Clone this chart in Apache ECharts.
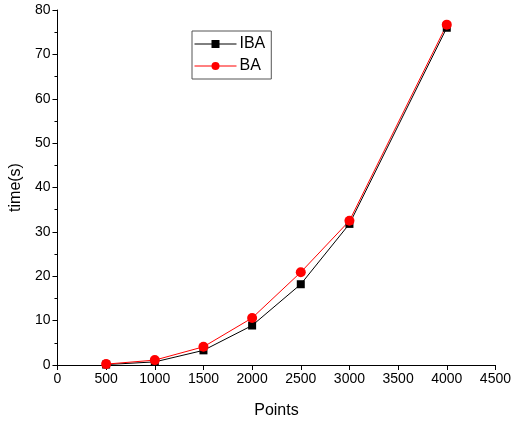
<!DOCTYPE html>
<html>
<head>
<meta charset="utf-8">
<script src="https://cdn.jsdelivr.net/npm/echarts@6/dist/echarts.min.js"></script>
<style>html,body{margin:0;padding:0;background:#fff}#c{width:514px;height:424px}</style>
</head>
<body>
<div id="c"></div>
<script>
const points = [500, 1000, 1500, 2000, 2500, 3000, 4000];
const ibaValues = [0.1, 0.7, 3.3, 8.9, 18.2, 31.8, 76.0];
const baValues = [0.2, 1.1, 4.1, 10.6, 20.9, 32.5, 76.7];
const seriesNames = ['IBA', 'BA'];

const chart = echarts.init(document.getElementById('c'), null, {renderer: 'canvas'});
const font = 'Liberation Sans, Arial, sans-serif';
chart.setOption({
  animation: false,
  backgroundColor: '#fff',
  grid: {left: 57, right: 16, top: 10, bottom: 58},
  legend: {
    orient: 'vertical',
    left: 192, top: 31,
    borderColor: '#555', borderWidth: 1,
    padding: [5, 6, 5, 2],
    itemGap: 6,
    itemWidth: 42, itemHeight: 10,
    lineStyle: {width: 1},
    textStyle: {fontFamily: font, fontSize: 16, color: '#000', padding: [0, 0, 0, -2]},
    data: seriesNames
  },
  xAxis: {
    type: 'value', min: 0, max: 4500, interval: 500,
    name: 'Points', nameLocation: 'middle', nameGap: 38,
    nameTextStyle: {fontFamily: font, fontSize: 16, color: '#000'},
    axisLine: {show: true, onZero: false, lineStyle: {color: '#000', width: 1}},
    axisTick: {show: true, length: 5, lineStyle: {color: '#000'}},
    axisLabel: {fontFamily: font, fontSize: 14, color: '#000', margin: 7, formatter: v => String(v)},
    splitLine: {show: false}
  },
  yAxis: {
    type: 'value', min: 0, max: 80, interval: 10,
    name: 'time(s)', nameLocation: 'middle', nameGap: 31,
    nameTextStyle: {fontFamily: font, fontSize: 16, color: '#000'},
    axisLine: {show: true, lineStyle: {color: '#000', width: 1}},
    axisTick: {show: true, length: 5, lineStyle: {color: '#000'}},
    minorTick: {show: true, splitNumber: 2, length: 3, lineStyle: {color: '#000'}},
    axisLabel: {fontFamily: font, fontSize: 14, color: '#000', margin: 7, formatter: v => String(v)},
    splitLine: {show: false}
  },
  series: [
    {
      name: seriesNames[0], type: 'line',
      data: points.map((p, i) => [p, ibaValues[i]]),
      symbol: 'rect', symbolSize: 8,
      itemStyle: {color: '#000'},
      lineStyle: {color: '#000', width: 1}
    },
    {
      name: seriesNames[1], type: 'line',
      data: points.map((p, i) => [p, baValues[i]]),
      symbol: 'circle', symbolSize: 10,
      itemStyle: {color: '#ff0000'},
      lineStyle: {color: '#ff0000', width: 1}
    }
  ]
});
</script>
</body>
</html>
